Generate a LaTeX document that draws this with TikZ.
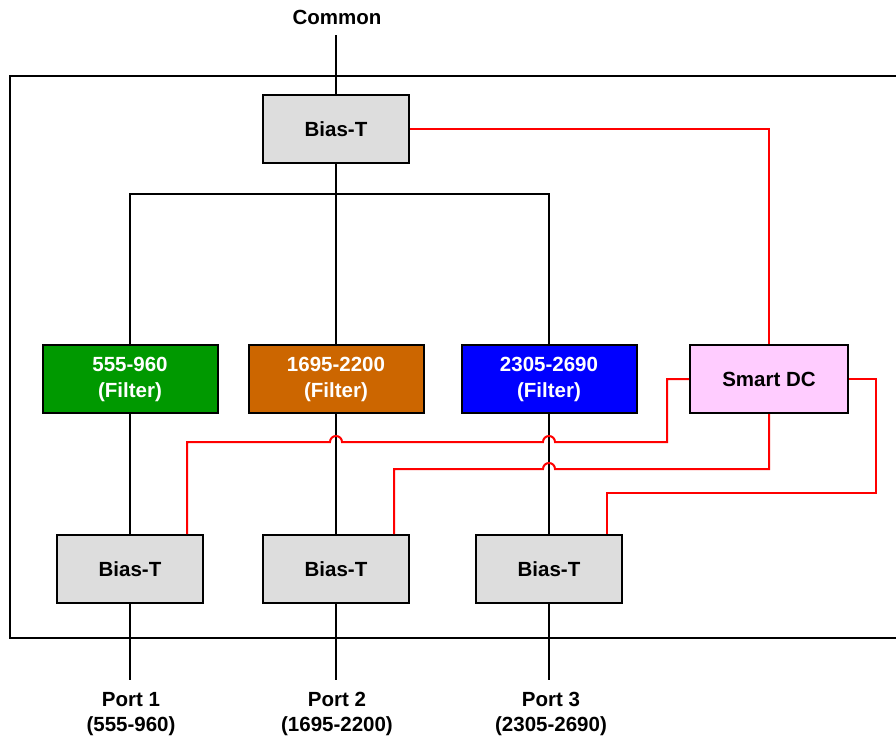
\documentclass[tikz,border=0pt]{standalone}
\usepackage{fontspec}
\setmainfont{Liberation Sans}
\definecolor{boxgray}{HTML}{DDDDDD}
\definecolor{fgreen}{HTML}{009900}
\definecolor{forange}{HTML}{CC6600}
\definecolor{fblue}{HTML}{0000FF}
\definecolor{fpink}{HTML}{FFCCFF}
\definecolor{wirered}{HTML}{FF0000}
\begin{document}
\begin{tikzpicture}[x=1pt,y=1pt,
  blk/.style={draw=black, line width=2pt, minimum height=68pt, inner sep=0pt, font=\fontsize{20.5}{26}\selectfont\bfseries, align=center},
  biast/.style={blk, fill=boxgray, minimum width=146pt},
  filt/.style={blk, minimum width=175pt, text=white},
  lbl/.style={font=\fontsize{20.5}{25}\selectfont\bfseries, align=center, inner sep=0pt},
  wire/.style={line width=2pt, black},
  redwire/.style={line width=2pt, wirered, line join=miter}]
\useasboundingbox (0,0) rectangle (896,-740);
% outer frame
\draw[line width=2.5pt] (900,-76) -- (10,-76) -- (10,-638) -- (900,-638);
% nodes
\node[lbl] (common) at (337,-17) {Common};
\coordinate (ctop) at (336,-35);
\node[biast] (btop) at (336,-129) {Bias-T};
\node[filt, fill=fgreen] (f1) at (130,-379) {555-960\\(Filter)};
\node[filt, fill=forange] (f2) at (336,-379) {1695-2200\\(Filter)};
\node[filt, fill=fblue] (f3) at (549,-379) {2305-2690\\(Filter)};
\node[blk, fill=fpink, minimum width=158pt] (sdc) at (769,-379) {Smart DC};
\node[biast] (b1) at (130,-569) {Bias-T};
\node[biast] (b2) at (336,-569) {Bias-T};
\node[biast] (b3) at (549,-569) {Bias-T};
\coordinate (e1) at (130,-680);
\coordinate (e2) at (336,-680);
\coordinate (e3) at (549,-680);
\node[lbl] (p1) at (131,-714) {Port 1\\(555-960)};
\node[lbl] (p2) at (337,-714) {Port 2\\(1695-2200)};
\node[lbl] (p3) at (551,-714) {Port 3\\(2305-2690)};
% black wiring
\draw[wire] (ctop) -- (btop.north);
\draw[wire] (btop.south) -- (f2.north);
\coordinate (bus) at (336,-194);
\draw[wire] (f1.north) -- (f1.north |- bus) -- (f3.north |- bus) -- (f3.north);
\draw[wire] (f1.south) -- (b1.north);
\draw[wire] (f2.south) -- (b2.north);
\draw[wire] (f3.south) -- (b3.north);
\draw[wire] (b1.south) -- (e1);
\draw[wire] (b2.south) -- (e2);
\draw[wire] (b3.south) -- (e3);
% red wiring
\draw[redwire] (btop.east) -| (sdc.north);
\coordinate (r1a) at (667,-442);
\coordinate (r1b) at (187,-442);
\draw[redwire] (sdc.west) -| (r1a) -- (555,-442) arc[start angle=0,end angle=180,radius=6pt] -- (342,-442) arc[start angle=0,end angle=180,radius=6pt] -- (r1b) -- (r1b |- b1.north);
\coordinate (r2a) at (769,-469);
\coordinate (r2b) at (394,-469);
\draw[redwire] (sdc.south) -- (r2a) -- (555,-469) arc[start angle=0,end angle=180,radius=6pt] -- (r2b) -- (r2b |- b2.north);
\coordinate (r3a) at (876,-493);
\coordinate (r3b) at (607,-493);
\draw[redwire] (sdc.east) -| (r3a) -- (r3b) -- (r3b |- b3.north);
\end{tikzpicture}
\end{document}
